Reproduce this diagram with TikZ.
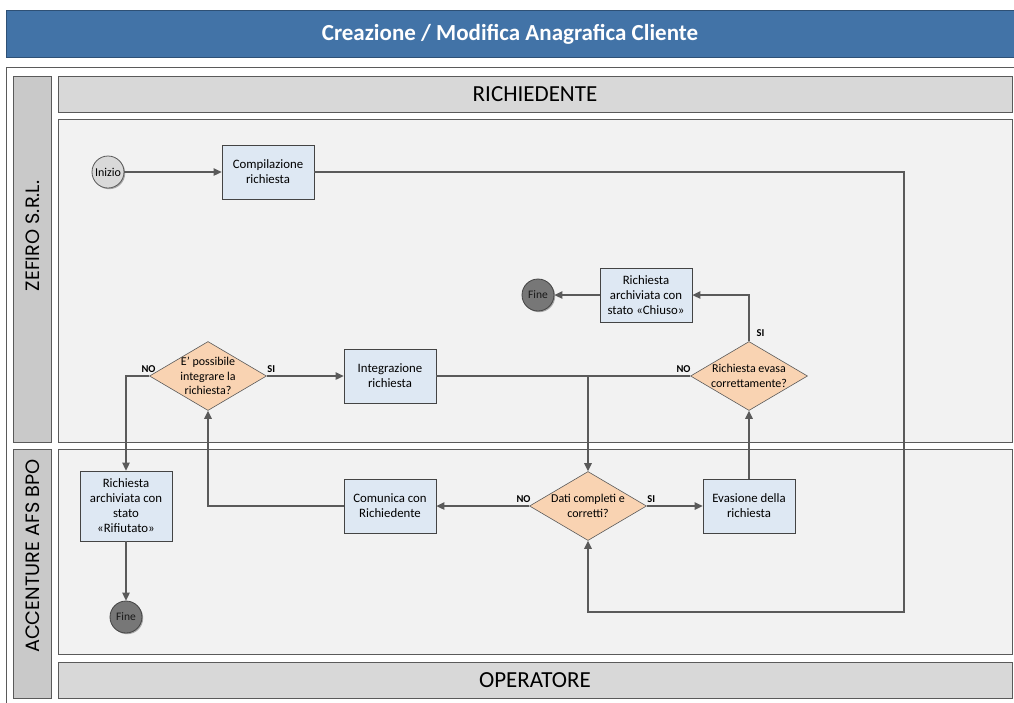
\documentclass[tikz,border=0pt]{standalone}
\usepackage{fontspec}
\setmainfont{Carlito}
\newfontfamily\lanefont{Poppins}
\usetikzlibrary{positioning,shapes.geometric,arrows.meta,shadows}

\definecolor{titleblue}{HTML}{4273A7}
\definecolor{boxblue}{HTML}{DEE8F3}
\definecolor{diampeach}{HTML}{F9D3B2}
\definecolor{lanegray}{HTML}{F2F2F2}
\definecolor{headgray}{HTML}{D8D8D8}
\definecolor{tabgray}{HTML}{C9C9C9}
\definecolor{linegray}{HTML}{5A5A5A}
\definecolor{borderdark}{HTML}{444444}
\definecolor{finegray}{HTML}{777777}
\definecolor{iniziogray}{HTML}{D9D9D9}

\tikzset{
  softshadow/.style={drop shadow={shadow xshift=1.2pt, shadow yshift=-1.2pt, opacity=0.3, fill=black}},
  titlebar/.style={rectangle, fill=titleblue, draw=titleblue!70!black, minimum width=1008pt, minimum height=47pt,
    text=white, font=\fontsize{23}{26}\bfseries\selectfont, inner sep=0pt},
  header/.style={rectangle, fill=headgray, draw=linegray, line width=0.8pt, softshadow,
    minimum width=954pt, minimum height=36pt, font=\fontsize{23}{26}\selectfont, inner sep=0pt},
  lanetab/.style={rectangle, fill=tabgray, draw=linegray, line width=0.8pt,
    minimum width=38pt, inner sep=0pt},
  tabtext/.style={rotate=90, font=\lanefont\fontsize{19.3}{22}\selectfont, inner sep=0pt},
  lanebody/.style={fill=lanegray, draw=linegray, line width=0.8pt, softshadow},
  procbox/.style={rectangle, fill=boxblue, draw=borderdark, line width=0.8pt, softshadow,
    minimum width=92pt, minimum height=54pt, align=center, inner sep=2pt,
    font=\fontsize{12.8}{15}\selectfont},
  decision/.style={diamond, fill=diampeach, draw=linegray, line width=0.6pt,
    minimum width=117pt, minimum height=69pt, inner sep=0pt},
  dtext/.style={align=center, font=\fontsize{12}{14.5}\selectfont, inner sep=0pt},
  startev/.style={circle, fill=iniziogray, draw=linegray, line width=0.8pt, softshadow,
    minimum size=32pt, inner sep=0pt, font=\fontsize{12}{13}\selectfont},
  endev/.style={circle, fill=finegray, draw=borderdark, line width=0.8pt, softshadow,
    minimum size=32pt, inner sep=0pt, font=\fontsize{11.5}{12}\selectfont, text=black!90},
  flow/.style={draw=linegray, line width=1.3pt, -{Triangle[length=8pt,width=7.5pt]}},
  plainflow/.style={draw=linegray, line width=1.3pt},
  choice/.style={font=\fontsize{10.5}{12}\bfseries\selectfont, inner sep=1pt},
}

\begin{document}
\begin{tikzpicture}[x=1pt, y=1pt]
  \useasboundingbox (0,0) rectangle (1014,-702);
  \fill[white] (0,0) rectangle (1014,-702);

  % cornice e intestazione
  \draw[linegray, line width=0.8pt] (6.5,-67.5) rectangle (1020,-710);
  \node[titlebar] (titolo) at (510,-34) {Creazione / Modifica Anagrafica Cliente};

  % corsie
  \node[header] (richiedente) at (535,-94) {RICHIEDENTE};
  \node[header] (operatore) at (535,-680) {OPERATORE};
  \node[lanetab, minimum height=366pt] (zefiro) at (32,-259) {};
  \node[lanetab, minimum height=249pt] (accenture) at (32,-573.5) {};
  \node[tabtext] (zefirotxt) at (33,-236) {ZEFIRO S.R.L.};
  \node[tabtext] (accenturetxt) at (33,-556) {ACCENTURE AFS BPO};
  \draw[lanebody] (58,-119) rectangle (1012,-442);
  \draw[lanebody] (58,-449) rectangle (1012,-654);

  % nodi
  \node[startev] (inizio) at (108,-172) {Inizio};
  \node[procbox, on grid, right=160pt of inizio] (compilazione) {Compilazione\\richiesta};
  \node[decision] (possibile) at (208,-376) {};
  \node[dtext] at (possibile) {E' possibile\\integrare la\\richiesta?};
  \node[procbox, on grid, right=182pt of possibile] (integrazione) {Integrazione\\richiesta};
  \node[procbox, on grid, below=130pt of integrazione] (comunica) {Comunica con\\Richiedente};
  \node[decision, on grid, right=198pt of comunica] (dati) {};
  \node[dtext] at (dati) {Dati completi e\\corretti?};
  \node[procbox, on grid, right=161pt of dati] (evasione) {Evasione della\\richiesta};
  \node[decision, on grid, above=130pt of evasione] (evasa) {};
  \node[dtext] at (evasa) {Richiesta evasa\\correttamente?};
  \node[procbox, on grid, above left=81pt and 103pt of evasa] (chiuso) {Richiesta\\archiviata con\\stato «Chiuso»};
  \node[endev, on grid, left=108pt of chiuso] (fineA) {Fine};
  \node[procbox, minimum height=70pt, on grid, below left=130pt and 82pt of possibile] (rifiutato)
    {Richiesta\\archiviata con\\stato\\«Rifiutato»};
  \node[endev, on grid, below=111pt of rifiutato] (fineB) {Fine};

  \coordinate (anelloR) at (904,-612);
  \coordinate (giunto) at (dati.north |- integrazione.east);

  % collegamenti
  \draw[flow] (inizio) -- (compilazione);
  \draw[flow] (compilazione.east) -| (anelloR) -| (dati.south);
  \draw[flow] (possibile.east) node[choice, anchor=south west, xshift=-1pt, yshift=2pt] {SI} -- (integrazione.west);
  \draw[flow] (possibile.west) node[choice, anchor=south east, xshift=8pt, yshift=2pt] {NO} -| (rifiutato.north);
  \draw[flow] (rifiutato) -- (fineB);
  \draw[plainflow] (integrazione.east) -- (giunto);
  \draw[flow] (evasa.west) node[choice, anchor=south east, xshift=2pt, yshift=2pt] {NO} -- (giunto) -- (dati.north);
  \draw[flow] (dati.west) node[choice, anchor=south east, xshift=3pt, yshift=2pt] {NO} -- (comunica.east);
  \draw[flow] (dati.east) node[choice, anchor=south west, xshift=-1pt, yshift=2pt] {SI} -- (evasione.west);
  \draw[flow] (comunica.west) -| (possibile.south);
  \draw[flow] (evasione) -- (evasa);
  \draw[flow] (evasa.north) node[choice, anchor=south west, xshift=6pt, yshift=3pt] {SI} |- (chiuso.east);
  \draw[flow] (chiuso) -- (fineA);
\end{tikzpicture}
\end{document}
